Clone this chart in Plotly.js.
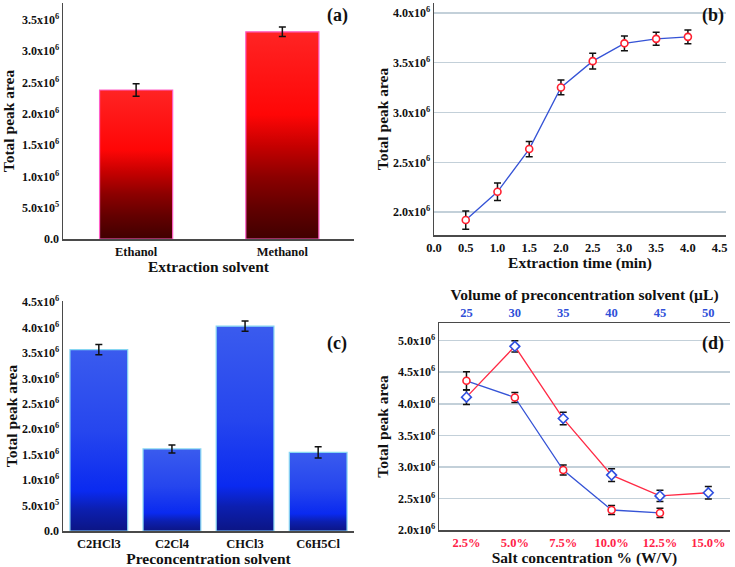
<!DOCTYPE html>
<html>
<head>
<meta charset="utf-8">
<script src="https://cdn.plot.ly/plotly-3.0.1.min.js"></script>
<style>html,body{margin:0;padding:0;background:#fff;}#chart{width:735px;height:567px;}</style>
</head>
<body>
<div id="chart"></div>
<script>
// ---------- data ----------
const solventsA = ['Ethanol', 'Methanol'];
const areaA = [2.38e6, 3.31e6];
const errA = [0.10e6, 0.075e6];

const timeB = [0.5, 1.0, 1.5, 2.0, 2.5, 3.0, 3.5, 4.0];
const areaB = [1.92e6, 2.204e6, 2.633e6, 3.252e6, 3.516e6, 3.695e6, 3.74e6, 3.76e6];
const errB = [0.092e6, 0.087e6, 0.077e6, 0.074e6, 0.08e6, 0.074e6, 0.065e6, 0.07e6];

const solventsC = ['C2HCl3', 'C2Cl4', 'CHCl3', 'C6H5Cl'];
const areaC = [3.566e6, 1.612e6, 4.026e6, 1.547e6];
const errC = [0.10e6, 0.08e6, 0.10e6, 0.11e6];

const saltD = [2.5, 5.0, 7.5, 10.0, 12.5];
const areaSaltD = [4.364e6, 4.10e6, 2.95e6, 2.317e6, 2.27e6];
const errSaltD = [0.143e6, 0.078e6, 0.078e6, 0.07e6, 0.073e6];
const volumeD = [25, 30, 35, 40, 45, 50];
const areaVolD = [4.105e6, 4.91e6, 3.766e6, 2.87e6, 2.54e6, 2.59e6];
const errVolD = [0.115e6, 0.09e6, 0.10e6, 0.10e6, 0.09e6, 0.10e6];

// tick labels
const yTickValsA = [0, 0.5e6, 1.0e6, 1.5e6, 2.0e6, 2.5e6, 3.0e6, 3.5e6];
const yTickTextA = ['0.0', '5.0x10<sup>5</sup>', '1.0x10<sup>6</sup>', '1.5x10<sup>6</sup>', '2.0x10<sup>6</sup>', '2.5x10<sup>6</sup>', '3.0x10<sup>6</sup>', '3.5x10<sup>6</sup>'];
const yTickValsB = [2.0e6, 2.5e6, 3.0e6, 3.5e6, 4.0e6];
const yTickTextB = ['2.0x10<sup>6</sup>', '2.5x10<sup>6</sup>', '3.0x10<sup>6</sup>', '3.5x10<sup>6</sup>', '4.0x10<sup>6</sup>'];
const xTickValsB = [0, 0.5, 1.0, 1.5, 2.0, 2.5, 3.0, 3.5, 4.0, 4.5];
const xTickTextB = ['0.0', '0.5', '1.0', '1.5', '2.0', '2.5', '3.0', '3.5', '4.0', '4.5'];
const yTickValsC = [0, 0.5e6, 1.0e6, 1.5e6, 2.0e6, 2.5e6, 3.0e6, 3.5e6, 4.0e6, 4.5e6];
const yTickTextC = ['0.0', '5.0x10<sup>5</sup>', '1.0x10<sup>6</sup>', '1.5x10<sup>6</sup>', '2.0x10<sup>6</sup>', '2.5x10<sup>6</sup>', '3.0x10<sup>6</sup>', '3.5x10<sup>6</sup>', '4.0x10<sup>6</sup>', '4.5x10<sup>6</sup>'];
const yTickValsD = [2.0e6, 2.5e6, 3.0e6, 3.5e6, 4.0e6, 4.5e6, 5.0e6];
const yTickTextD = ['2.0x10<sup>6</sup>', '2.5x10<sup>6</sup>', '3.0x10<sup>6</sup>', '3.5x10<sup>6</sup>', '4.0x10<sup>6</sup>', '4.5x10<sup>6</sup>', '5.0x10<sup>6</sup>'];
const saltTickVals = [2.5, 5.0, 7.5, 10.0, 12.5, 15.0];
const saltTickText = ['2.5%', '5.0%', '7.5%', '10.0%', '12.5%', '15.0%'];
const volTickVals = [25, 30, 35, 40, 45, 50];

// ---------- styles ----------
const FONT = 'Liberation Serif, Times New Roman, serif';
const AXC = '#4a4a4a';
const GRID = '#c3d0d9';
const redScale = [[0, '#400000'], [0.15, '#620000'], [0.3, '#8c0000'], [0.45, '#c60000'], [0.6, '#ff0606'], [1, '#ff2424']];
const blueScale = [[0, '#0c1585'], [0.12, '#0c1fb0'], [0.22, '#0a2af0'], [0.55, '#2646ee'], [1, '#3a5bee']];
const BAR_W_A = 0.5, BAR_W_C = 0.79;

function gradientBars(vals, w, scale, xa, ya) {
  return vals.map((v, i) => ({
    type: 'scatter', xaxis: xa, yaxis: ya,
    x: [i - w / 2, i - w / 2, i + w / 2, i + w / 2],
    y: [0, v, v, 0],
    mode: 'lines', line: {width: 0}, fill: 'toself',
    fillgradient: {type: 'vertical', start: 0, stop: v, colorscale: scale},
    hoverinfo: 'skip', showlegend: false
  }));
}

const errStyle = (arr) => ({type: 'data', array: arr, visible: true, color: '#111', thickness: 1.5, width: 3.5});

const traces = [];
// (a) gradient fills under the bars
traces.push(...gradientBars(areaA, BAR_W_A, redScale, 'x', 'y'));
traces.push({
  type: 'bar', xaxis: 'x5', yaxis: 'y5',
  x: solventsA.map((_, i) => i), y: areaA, width: BAR_W_A,
  marker: {color: 'rgba(0,0,0,0)', line: {color: '#ff5ec8', width: 1.2}},
  error_y: errStyle(errA), showlegend: false
});
// (b)
traces.push({
  type: 'scatter', xaxis: 'x2', yaxis: 'y2',
  x: timeB, y: areaB, mode: 'lines+markers',
  line: {color: '#3553d6', width: 1.3},
  marker: {symbol: 'circle', size: 7, color: '#fff', line: {color: '#ff1f2f', width: 1.6}},
  error_y: errStyle(errB), showlegend: false
});
// (c)
traces.push(...gradientBars(areaC, BAR_W_C, blueScale, 'x3', 'y3'));
traces.push({
  type: 'bar', xaxis: 'x7', yaxis: 'y7',
  x: solventsC.map((_, i) => i), y: areaC, width: BAR_W_C,
  marker: {color: 'rgba(0,0,0,0)', line: {color: '#86d6f2', width: 1.2}},
  error_y: errStyle(errC), showlegend: false
});
// (d)
traces.push({
  type: 'scatter', xaxis: 'x4', yaxis: 'y4',
  x: saltD, y: areaSaltD, mode: 'lines+markers',
  line: {color: '#3553d6', width: 1.3},
  marker: {symbol: 'circle', size: 7, color: '#fff', line: {color: '#ff1f2f', width: 1.6}},
  error_y: errStyle(errSaltD), showlegend: false
});
traces.push({
  type: 'scatter', xaxis: 'x6', yaxis: 'y4',
  x: volumeD, y: areaVolD, mode: 'lines+markers',
  line: {color: '#ff2a45', width: 1.3},
  marker: {symbol: 'diamond', size: 7.5, color: '#fff', line: {color: '#2f4fe0', width: 1.6}},
  error_y: errStyle(errVolD), showlegend: false
});

const W = 735, H = 567;
const dx = (a, b) => [a / W, b / W];
const dy = (top, bot) => [(H - bot) / H, (H - top) / H];

const tickFont = {family: FONT, size: 12, color: '#111', weight: 'bold'};
const catFont = {family: FONT, size: 12.5, color: '#111', weight: 'bold'};
const titleFont = {family: FONT, size: 15.5, color: '#111', weight: 'bold'};
const labelFont = {family: FONT, size: 18, color: '#111', weight: 'bold'};

function yAx(domain, range, vals, text, anchor, standoff, grid) {
  return {
    domain: domain, range: range, anchor: anchor,
    tickmode: 'array', tickvals: vals, ticktext: text, tickfont: tickFont,
    ticks: '', showline: true, linecolor: AXC, linewidth: 1.5,
    showgrid: !!grid, gridcolor: GRID, gridwidth: 1.5, zeroline: false,
    title: {text: 'Total peak area', font: titleFont, standoff: standoff},
    automargin: false, fixedrange: true
  };
}

const layout = {
  width: W, height: H,
  margin: {l: 0, r: 0, t: 0, b: 0, pad: 0},
  paper_bgcolor: '#fff', plot_bgcolor: 'rgba(0,0,0,0)',
  showlegend: false,
  font: {family: FONT, color: '#111'},
  // (a)
  xaxis: {domain: dx(63, 354), range: [-0.5, 1.49], anchor: 'y',
    tickmode: 'array', tickvals: solventsA.map((_, i) => i), ticktext: solventsA, tickfont: catFont,
    ticks: '', showline: true, linecolor: AXC, linewidth: 1.5, showgrid: false, zeroline: false,
    title: {text: 'Extraction solvent', font: titleFont, standoff: 3}, automargin: false},
  yaxis: yAx(dy(3, 239), [0, 3.77e6], yTickValsA, yTickTextA, 'x', 4, false),
  xaxis5: {overlaying: 'x', range: [-0.5, 1.49], anchor: 'y5', visible: false},
  yaxis5: {overlaying: 'y', range: [0, 3.77e6], anchor: 'x5', visible: false},
  // (b)
  xaxis2: {domain: dx(434, 726), range: [0, 4.6], anchor: 'y2',
    tickmode: 'array', tickvals: xTickValsB, ticktext: xTickTextB, tickfont: catFont,
    ticks: '', showline: true, linecolor: AXC, linewidth: 1.5, showgrid: false, zeroline: false,
    title: {text: 'Extraction time (min)', font: titleFont, standoff: 3}, automargin: false},
  yaxis2: yAx(dy(3, 235), [1.77e6, 4.1e6], yTickValsB, yTickTextB, 'x2', 0, true),
  // (c)
  xaxis3: {domain: dx(63, 354), range: [-0.49, 3.49], anchor: 'y3',
    tickmode: 'array', tickvals: solventsC.map((_, i) => i), ticktext: solventsC, tickfont: catFont,
    ticks: '', showline: true, linecolor: AXC, linewidth: 1.5, showgrid: false, zeroline: false,
    title: {text: 'Preconcentration solvent', font: titleFont, standoff: 2}, automargin: false},
  yaxis3: yAx(dy(301, 531), [0, 4.52e6], yTickValsC, yTickTextC, 'x3', 0, false),
  xaxis7: {overlaying: 'x3', range: [-0.49, 3.49], anchor: 'y7', visible: false},
  yaxis7: {overlaying: 'y3', range: [0, 4.52e6], anchor: 'x7', visible: false},
  // (d)
  xaxis4: {domain: dx(439, 730), range: [1.08, 16.12], anchor: 'y4',
    tickmode: 'array', tickvals: saltTickVals, ticktext: saltTickText,
    tickfont: {family: FONT, size: 12.5, color: '#ff2248', weight: 'bold'},
    ticks: '', showline: true, linecolor: AXC, linewidth: 1.5, showgrid: false, zeroline: false,
    title: {text: 'Salt concentration % (W/V)', font: titleFont, standoff: 2}, automargin: false},
  xaxis6: {overlaying: 'x4', side: 'top', range: [22.16, 52.24], anchor: 'y4',
    tickmode: 'array', tickvals: volTickVals,
    tickfont: {family: FONT, size: 12.5, color: '#2f4fd8', weight: 'bold'},
    ticks: '', showline: true, linecolor: AXC, linewidth: 1.5, showgrid: false, zeroline: false,
    title: {text: 'Volume of preconcentration solvent (µL)', font: titleFont, standoff: 1}, automargin: false},
  yaxis4: yAx(dy(323, 530), [2.0e6, 5.28e6], yTickValsD, yTickTextD, 'x4', 5, true),
  annotations: [
    {text: '(a)', xref: 'x domain', yref: 'y domain', x: 0.945, y: 0.945, xanchor: 'center', yanchor: 'middle', showarrow: false, font: labelFont},
    {text: '(b)', xref: 'x2 domain', yref: 'y2 domain', x: 0.955, y: 0.944, xanchor: 'center', yanchor: 'middle', showarrow: false, font: labelFont},
    {text: '(c)', xref: 'x3 domain', yref: 'y3 domain', x: 0.94, y: 0.817, xanchor: 'center', yanchor: 'middle', showarrow: false, font: labelFont},
    {text: '(d)', xref: 'x4 domain', yref: 'y4 domain', x: 0.94, y: 0.903, xanchor: 'center', yanchor: 'middle', showarrow: false, font: labelFont}
  ]
};

Plotly.newPlot('chart', traces, layout, {staticPlot: true, displayModeBar: false});
</script>
</body>
</html>
